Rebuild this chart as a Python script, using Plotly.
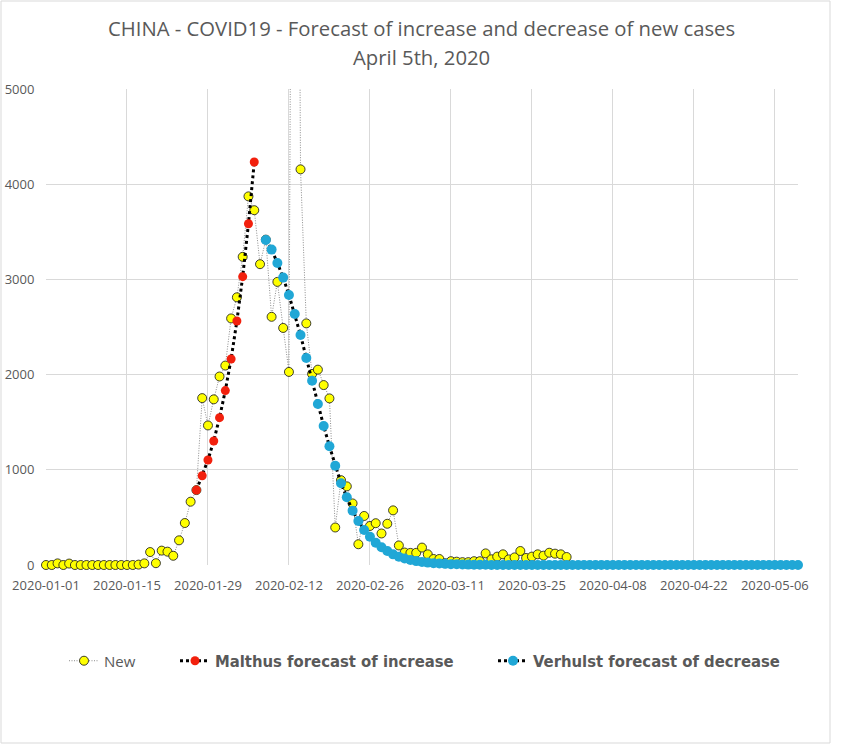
import pandas as pd
import plotly.graph_objects as go

# ---------------- data ----------------
new_start = "2020-01-01"
new_cases = [
    0, 0, 17, 0, 15, 0, 0, 0, 0, 0, 0, 0, 0, 0, 0, 0,          # Jan 1 - Jan 16
    4, 17, 136, 19, 151, 140, 97, 259, 441, 665, 787, 1753,      # Jan 17 - Jan 28
    1466, 1740, 1980,                                           # Jan 29 - Jan 31
    2095, 2590, 2812, 3237, 3872, 3727, 3160, 3418, 2607, 2974,  # Feb 1 - Feb 10
    2490, 2028, 15141, 4156, 2538, 2007, 2052, 1890, 1750, 394,  # Feb 11 - Feb 20
    891, 826, 647, 218, 515, 410, 439, 331, 433,                 # Feb 21 - Feb 29
    574, 205, 131, 127, 128, 183, 112, 63, 63, 19,               # Mar 1 - Mar 10
    40, 35, 30, 30, 40, 40, 122, 60, 88, 112,                    # Mar 11 - Mar 20
    59, 80, 147, 74, 88, 112, 98, 129, 119, 112, 84,             # Mar 21 - Mar 31
]

malthus_start = "2020-01-27"
malthus_values = [787, 938, 1103, 1303, 1548, 1832, 2164, 2563, 3029, 3585, 4233]

verhulst_start = "2020-02-08"
verhulst_values = [
    3414, 3313, 3173, 3019, 2836, 2636, 2416, 2174, 1936, 1691,
    1460, 1247, 1043, 858, 711, 571, 462, 368, 297, 234,
    186, 147, 112, 87, 68, 53, 41, 32, 25, 19,
    15, 12, 9, 7, 5, 4, 3, 2, 2, 1,
    1, 1, 1, 0, 0, 0, 0, 0, 0, 0,
    0, 0, 0, 0, 0, 0, 0, 0, 0, 0,
    0, 0, 0, 0, 0, 0, 0, 0, 0, 0,
    0, 0, 0, 0, 0, 0, 0, 0, 0, 0,
    0, 0, 0, 0, 0, 0, 0, 0, 0, 0,
    0, 0, 0,
]

series_names = ["New", "Malthus forecast of increase", "Verhulst forecast of decrease"]
title_line1 = "CHINA - COVID19 - Forecast of increase and decrease of new cases"
title_line2 = "April 5th, 2020"
x_range = ["2020-01-01", "2020-05-10"]
y_ticks = [0, 1000, 2000, 3000, 4000, 5000]

# ---------------- figure ----------------
new_dates = pd.date_range(new_start, periods=len(new_cases), freq="D")
malthus_dates = pd.date_range(malthus_start, periods=len(malthus_values), freq="D")
verhulst_dates = pd.date_range(verhulst_start, periods=len(verhulst_values), freq="D")

W, H = 842, 745
L, R, T, B = 46, 798, 89, 565   # plot area in pixels

def px_x(p):
    return (p - L) / (R - L)

def px_y(p):
    return (B - p) / (B - T)

fig = go.Figure()

fig.add_trace(go.Scatter(
    x=new_dates, y=new_cases, mode="lines+markers",
    name="<span style='font-family:Open Sans;font-weight:normal;font-size:15px'>" + series_names[0] + "</span>",
    line=dict(color="#8c8c8c", width=1, dash="1px,1.5px"),
    marker=dict(symbol="circle", size=9, color="#ffff00",
                line=dict(color="rgba(30,30,30,0.85)", width=1)),
    cliponaxis=False, legendwidth=66,
))
fig.add_trace(go.Scatter(
    x=malthus_dates, y=malthus_values, mode="lines+markers",
    name="<b>" + series_names[1] + "</b>",
    line=dict(color="#000000", width=3, dash="dot"),
    marker=dict(symbol="circle", size=9, color="#f2200d"),
    cliponaxis=False, legendwidth=273,
))
fig.add_trace(go.Scatter(
    x=verhulst_dates, y=verhulst_values, mode="lines+markers",
    name="<b>" + series_names[2] + "</b>",
    line=dict(color="#000000", width=3, dash="dot"),
    marker=dict(symbol="circle", size=10, color="#20a7d6"),
    cliponaxis=False,
))

grid = "#d9d9d9"
label_color = "#595959"

fig.update_layout(
    width=W, height=H,
    margin=dict(l=L, r=W - R, t=T, b=H - B, autoexpand=False),
    paper_bgcolor="white", plot_bgcolor="white",
    showlegend=True,
    legend=dict(
        orientation="h", x=px_x(64), xanchor="left", y=px_y(661), yanchor="middle",
        font=dict(family="Liberation Sans Narrow, DejaVu Sans Condensed, Roboto", size=16.5, color=label_color),
        bgcolor="rgba(0,0,0,0)", traceorder="normal",
    ),
    xaxis=dict(
        type="date", range=x_range, tick0="2020-01-01", dtick=14 * 86400000,
        tickformat="%Y-%m-%d", showgrid=True, gridcolor=grid, gridwidth=1,
        zeroline=False, showline=False,
        ticks="outside", ticklen=8, tickcolor="rgba(0,0,0,0)",
        tickfont=dict(family="Open Sans", size=13, color=label_color),
    ),
    yaxis=dict(
        range=[0, 5000], tickvals=y_ticks, ticktext=[str(v) for v in y_ticks],
        showgrid=True, gridcolor=grid, gridwidth=1, zeroline=False, showline=False,
        ticks="outside", ticklen=8, tickcolor="rgba(0,0,0,0)",
        tickfont=dict(family="Open Sans", size=13, color=label_color),
    ),
    annotations=[
        dict(text=title_line1, xref="paper", yref="paper", x=px_x(421), y=px_y(28),
             xanchor="center", yanchor="middle", showarrow=False,
             font=dict(family="Open Sans", size=20.3, color=label_color)),
        dict(text=title_line2, xref="paper", yref="paper", x=px_x(421), y=px_y(57),
             xanchor="center", yanchor="middle", showarrow=False,
             font=dict(family="Open Sans", size=20.3, color=label_color)),
    ],
    shapes=[
        dict(type="rect", xref="paper", yref="paper",
             x0=px_x(1), x1=px_x(830), y0=px_y(743), y1=px_y(1),
             line=dict(color="#d9d9d9", width=1), fillcolor="rgba(0,0,0,0)", layer="below"),
    ],
)

fig.write_html(
    "out.html",
    config={"displayModeBar": False},
    post_script="document.body.style.margin='0';document.body.style.overflow='hidden';",
)
